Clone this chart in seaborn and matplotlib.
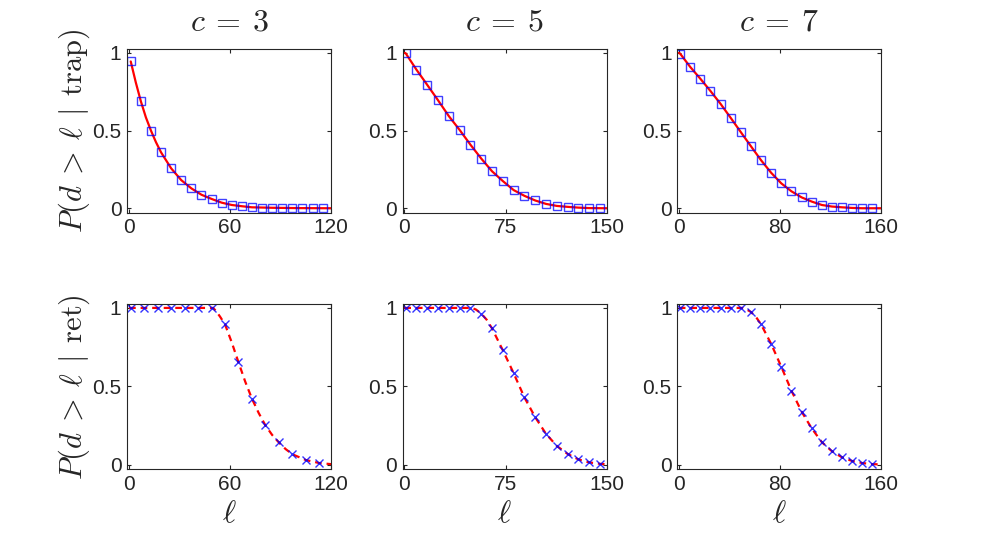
import numpy as np
import pandas as pd
import matplotlib
matplotlib.use("Agg")
import matplotlib.pyplot as plt
import seaborn as sns

sns.set_style("ticks")
plt.rcParams['font.family'] = ['Liberation Sans', 'DejaVu Sans']
plt.rcParams['mathtext.fontset'] = 'cm'

# ---------------- data ----------------
c_values = [3, 5, 7]
x_max = [120, 150, 160]
x_ticks = [[0, 60, 120], [0, 75, 150], [0, 80, 160]]

# top row (trap): markers
trap_x3 = [1, 7, 13, 19, 25, 31, 37, 43, 49, 55, 61, 67, 73, 79, 85, 91, 97, 103, 109, 115]
trap_y3 = [0.945, 0.689, 0.500, 0.360, 0.257, 0.181, 0.128, 0.087, 0.060, 0.036,
           0.021, 0.013, 0.006, 0.004, 0.003, 0.002, 0.001, 0.001, 0.0, 0.0]
trap_x5 = [1, 9, 17, 25, 33, 41, 49, 57, 65, 73, 81, 89, 97, 105, 113, 121, 129, 137, 145]
trap_y5 = [0.998, 0.892, 0.794, 0.695, 0.593, 0.504, 0.409, 0.320, 0.238, 0.175,
           0.117, 0.080, 0.050, 0.028, 0.015, 0.009, 0.004, 0.001, 0.0]
trap_x7 = [1, 9, 17, 25, 33, 41, 49, 57, 65, 73, 81, 89, 97, 105, 113, 121, 129, 137, 145, 153]
trap_y7 = [0.996, 0.910, 0.834, 0.755, 0.672, 0.582, 0.490, 0.399, 0.309, 0.228,
           0.160, 0.109, 0.070, 0.043, 0.021, 0.011, 0.006, 0.002, 0.0, 0.0]

# top row (trap): red theory curves
trap_lx3 = [1, 4, 7, 10, 13, 16, 19, 25, 31, 37, 43, 49, 55, 61, 67, 73, 85, 100, 120]
trap_ly3 = [0.945, 0.81, 0.689, 0.585, 0.500, 0.425, 0.360, 0.257, 0.181, 0.128, 0.087,
            0.060, 0.036, 0.021, 0.013, 0.006, 0.003, 0.001, 0.0]
trap_lx5 = [0, 1, 9, 17, 25, 33, 41, 49, 57, 65, 73, 81, 89, 97, 105, 113, 121, 129, 137, 150]
trap_ly5 = [1.0, 0.998, 0.892, 0.794, 0.695, 0.593, 0.504, 0.409, 0.320, 0.238, 0.175,
            0.117, 0.080, 0.050, 0.028, 0.015, 0.009, 0.004, 0.001, 0.0]
trap_lx7 = [0, 1, 9, 17, 25, 33, 41, 49, 57, 65, 73, 81, 89, 97, 105, 113, 121, 129, 137, 145, 160]
trap_ly7 = [1.0, 0.996, 0.910, 0.834, 0.755, 0.672, 0.582, 0.490, 0.399, 0.309, 0.228,
            0.160, 0.109, 0.070, 0.043, 0.021, 0.011, 0.006, 0.002, 0.0, 0.0]

# bottom row (ret): markers
ret_x3 = [1, 9, 17, 25, 33, 41, 49, 57, 65, 73, 81, 89, 97, 105, 113]
ret_y3 = [1, 1, 1, 1, 1, 1, 1, 0.895, 0.653, 0.421, 0.251, 0.142, 0.067, 0.030, 0.011]
ret_x5 = [1, 9, 17, 25, 33, 41, 49, 57, 65, 73, 81, 89, 97, 105, 113, 121, 129, 137, 145]
ret_y5 = [1, 1, 1, 1, 1, 1, 1, 0.964, 0.869, 0.730, 0.584, 0.429, 0.303, 0.197,
          0.120, 0.069, 0.034, 0.015, 0.006]
ret_x7 = [1, 9, 17, 25, 33, 41, 49, 57, 65, 73, 81, 89, 97, 105, 113, 121, 129, 137, 145, 153]
ret_y7 = [1, 1, 1, 1, 1, 1, 1, 0.974, 0.895, 0.770, 0.624, 0.472, 0.339, 0.232,
          0.144, 0.086, 0.047, 0.024, 0.011, 0.004]

# bottom row (ret): red dashed theory curves
ret_lx3 = [0, 50, 52, 54, 57, 61, 65, 69, 73, 77, 81, 85, 89, 93, 97, 105, 113, 120]
ret_ly3 = [1, 1, 0.975, 0.945, 0.895, 0.78, 0.653, 0.53, 0.421, 0.33, 0.251, 0.19,
           0.142, 0.10, 0.067, 0.030, 0.011, 0.004]
ret_lx5 = [0, 50, 53, 57, 61, 65, 73, 81, 89, 97, 105, 113, 121, 129, 137, 145, 150]
ret_ly5 = [1, 1, 0.99, 0.964, 0.925, 0.869, 0.730, 0.584, 0.429, 0.303, 0.197,
           0.120, 0.069, 0.034, 0.015, 0.006, 0.003]
ret_lx7 = [0, 50, 53, 57, 61, 65, 73, 81, 89, 97, 105, 113, 121, 129, 137, 145, 153, 160]
ret_ly7 = [1, 1, 0.993, 0.974, 0.942, 0.895, 0.770, 0.624, 0.472, 0.339, 0.232,
           0.144, 0.086, 0.047, 0.024, 0.011, 0.004, 0.002]

trap_pts = [(trap_x3, trap_y3), (trap_x5, trap_y5), (trap_x7, trap_y7)]
trap_lines = [(trap_lx3, trap_ly3), (trap_lx5, trap_ly5), (trap_lx7, trap_ly7)]
ret_pts = [(ret_x3, ret_y3), (ret_x5, ret_y5), (ret_x7, ret_y7)]
ret_lines = [(ret_lx3, ret_ly3), (ret_lx5, ret_ly5), (ret_lx7, ret_ly7)]

# ---------------- figure ----------------
fig = plt.figure(figsize=(9.81, 5.39), dpi=100)
lefts = [0.1295, 0.4105, 0.6904]
w = 0.208
rows = [(0.605, 0.304), (0.129, 0.307)]

edge = '#262626'
for r, (bottom, h) in enumerate(rows):
    for c in range(3):
        ax = fig.add_axes([lefts[c], bottom, w, h])
        if r == 0:
            lx, ly = trap_lines[c]
            px, py = trap_pts[c]
            sns.lineplot(x=lx, y=ly, ax=ax, color='red', linewidth=1.6, sort=False,
                         estimator=None)
            sns.lineplot(x=px, y=py, ax=ax, marker='s', linestyle='', markersize=6,
                         mfc='none', mec='blue', mew=1.0, alpha=0.75, estimator=None)
            ax.set_title(f'$c\\:=\\:{c_values[c]}$', fontsize=23, pad=13)
        else:
            lx, ly = ret_lines[c]
            px, py = ret_pts[c]
            sns.lineplot(x=lx, y=ly, ax=ax, color='red', linewidth=1.6, sort=False,
                         estimator=None, linestyle=(0, (3, 2.2)))
            sns.lineplot(x=px, y=py, ax=ax, marker='x', linestyle='', markersize=6,
                         mec='blue', mew=1.0, alpha=0.8, estimator=None)
            ax.set_xlabel(r'$\ell$', fontsize=23, labelpad=4)
        ax.set_xlim(-1.2, x_max[c])
        ax.set_ylim(-0.03, 1.025)
        ax.set_xticks(x_ticks[c])
        ax.set_xticklabels([str(t) for t in x_ticks[c]])
        ax.set_yticks([0, 0.5, 1])
        ax.set_yticklabels(['0', '0.5', '1'])
        ax.tick_params(direction='in', top=True, right=True, labelsize=15,
                       length=3, width=0.8, color=edge, labelcolor='#262626', pad=4)
        for s in ax.spines.values():
            s.set_visible(True)
            s.set_color(edge)
            s.set_linewidth(0.8)
        if c == 0:
            if r == 0:
                ax.set_ylabel(r'$P(d\:>\:\ell\:\mid\:\mathrm{trap})$', fontsize=22, labelpad=0)
            else:
                ax.set_ylabel(r'$P(d\:>\:\ell\:\mid\:\mathrm{ret})$', fontsize=22, labelpad=0)

fig.savefig('out.png', dpi=100)
